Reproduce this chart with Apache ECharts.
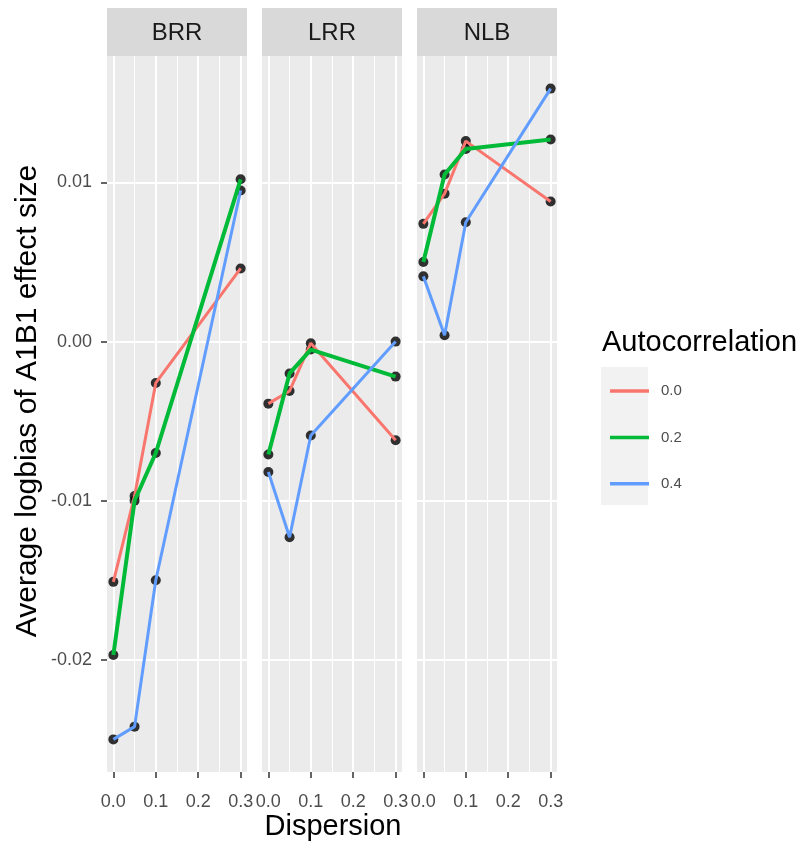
<!DOCTYPE html>
<html>
<head>
<meta charset="utf-8">
<script src="https://cdn.jsdelivr.net/npm/echarts@6/dist/echarts.min.js"></script>
<style>
  html, body { margin: 0; padding: 0; background: #ffffff; }
  #chart { width: 806px; height: 850px; }
</style>
</head>
<body>
<div id="chart"></div>
<script>
// ---- data ----
const panels = ['BRR', 'LRR', 'NLB'];
const autocorr = ['0.0', '0.2', '0.4'];
const dispersion = [0, 0.05, 0.1, 0.3];
const brr_00 = [-0.0151, -0.0097, -0.0026, 0.0046];
const brr_02 = [-0.0197, -0.0100, -0.0070, 0.0102];
const brr_04 = [-0.0250, -0.0242, -0.0150, 0.0095];
const lrr_00 = [-0.0039, -0.0031, -0.0001, -0.0062];
const lrr_02 = [-0.0071, -0.0020, -0.0005, -0.0022];
const lrr_04 = [-0.0082, -0.0123, -0.0059, 0.0000];
const nlb_00 = [0.0074, 0.0093, 0.0126, 0.0088];
const nlb_02 = [0.0050, 0.0105, 0.0121, 0.0127];
const nlb_04 = [0.0041, 0.0004, 0.0075, 0.0159];
const xTicks = [0, 0.1, 0.2, 0.3];
const xMinor = [0.05, 0.15, 0.25];
const yTicks = [-0.02, -0.01, 0, 0.01];
const yMinor = [-0.025, -0.015, -0.005, 0.005, 0.015];
const xRange = [-0.015, 0.315];
const yRange = [-0.02705, 0.01795];

const panelData = [
  [brr_00, brr_02, brr_04],
  [lrr_00, lrr_02, lrr_04],
  [nlb_00, nlb_02, nlb_04]
];

// ---- styles ----
const colors = ['#F8766D', '#00BA38', '#619CFF'];
const widths = [3, 4, 3];
const FONT = 'Liberation Sans, Arial, sans-serif';
const panelLeft = [107, 262, 417];
const panelW = 140, panelTop = 56, panelH = 716;

const chart = echarts.init(document.getElementById('chart'), null, { renderer: 'canvas' });

const grids = [], xAxes = [], yAxes = [], series = [], graphics = [];

panels.forEach((p, i) => {
  grids.push({
    left: panelLeft[i], top: panelTop, width: panelW, height: panelH,
    show: true, backgroundColor: '#EBEBEB', borderWidth: 0
  });
  xAxes.push({
    type: 'value', gridIndex: i, min: xRange[0], max: xRange[1],
    axisLine: { show: true, onZero: false, lineStyle: { color: 'rgba(0,0,0,0)', width: 0 } },
    axisTick: { show: true, customValues: xTicks, length: 6, lineStyle: { color: '#333333', width: 1.5 } },
    axisLabel: {
      show: true, customValues: xTicks, margin: 21,
      formatter: v => v.toFixed(1),
      fontSize: 18, color: '#4D4D4D', fontFamily: FONT
    },
    splitLine: { show: false }
  });
  yAxes.push({
    type: 'value', gridIndex: i, min: yRange[0], max: yRange[1],
    axisLine: { show: i === 0, onZero: false, lineStyle: { color: 'rgba(0,0,0,0)', width: 0 } },
    axisTick: { show: i === 0, customValues: yTicks, length: 6, lineStyle: { color: '#333333', width: 1.5 } },
    axisLabel: {
      show: i === 0, customValues: yTicks, margin: 15,
      formatter: v => (Math.abs(v) < 1e-12 ? 0 : v).toFixed(2),
      fontSize: 18, color: '#4D4D4D', fontFamily: FONT
    },
    splitLine: { show: false }
  });

  // gridlines drawn via the panel's own scales
  const ml = [];
  xTicks.forEach(v => ml.push({ xAxis: v, lineStyle: { width: 2 } }));
  xMinor.forEach(v => ml.push({ xAxis: v, lineStyle: { width: 1 } }));
  yTicks.forEach(v => ml.push({ yAxis: v, lineStyle: { width: 2 } }));
  yMinor.forEach(v => ml.push({ yAxis: v, lineStyle: { width: 1 } }));
  series.push({
    type: 'line', name: 'grid' + i, xAxisIndex: i, yAxisIndex: i, data: [],
    z: 1, silent: true, animation: false,
    markLine: {
      z: 1, silent: true, animation: false, symbol: 'none',
      label: { show: false },
      lineStyle: { color: '#FFFFFF', type: 'solid' },
      emphasis: { disabled: true },
      data: ml
    }
  });

  panelData[i].forEach((vals, k) => {
    const pts = dispersion.map((d, j) => [d, vals[j]]);
    series.push({
      type: 'scatter', name: 'pts', xAxisIndex: i, yAxisIndex: i,
      data: pts, symbol: 'circle', symbolSize: 10,
      itemStyle: { color: '#000000' }, z: 2, silent: true, animation: false
    });
    series.push({
      type: 'line', name: autocorr[k], xAxisIndex: i, yAxisIndex: i,
      data: pts, showSymbol: false, symbol: 'none',
      color: colors[k],
      lineStyle: { color: colors[k], width: widths[k] },
      z: 3, silent: true, animation: false
    });
  });

  // strip
  graphics.push({
    type: 'rect', left: panelLeft[i], top: 8, z: 0,
    shape: { width: panelW, height: 48 },
    style: { fill: '#D9D9D9' }
  });
  graphics.push({
    type: 'text', x: panelLeft[i] + panelW / 2, y: 33, z: 1,
    style: { text: p, fill: '#1A1A1A', font: '24px ' + FONT, align: 'center', verticalAlign: 'middle' }
  });
});

// axis titles
graphics.push({
  type: 'text', x: 333, y: 827, z: 1,
  style: { text: 'Dispersion', fill: '#000000', font: '29px ' + FONT, align: 'center', verticalAlign: 'middle' }
});
graphics.push({
  type: 'text', x: 28, y: 401, rotation: Math.PI / 2, z: 1,
  style: { text: 'Average logbias of A1B1 effect size', fill: '#000000', font: '30px ' + FONT, align: 'center', verticalAlign: 'middle' }
});
// legend title and key background
graphics.push({
  type: 'text', x: 602, y: 343, z: 1,
  style: { text: 'Autocorrelation', fill: '#000000', font: '29px ' + FONT, align: 'left', verticalAlign: 'middle' }
});
graphics.push({
  type: 'rect', left: 601, top: 367, z: 0,
  shape: { width: 47, height: 138 },
  style: { fill: '#F2F2F2' }
});

const option = {
  backgroundColor: '#FFFFFF',
  animation: false,
  grid: grids,
  xAxis: xAxes,
  yAxis: yAxes,
  legend: {
    data: autocorr,
    orient: 'vertical',
    left: 605, top: 378,
    icon: 'rect',
    itemWidth: 39, itemHeight: 3.5,
    itemGap: 30.4,
    selectedMode: false,
    textStyle: { fontSize: 15, lineHeight: 16, color: '#4D4D4D', fontFamily: FONT, padding: [0, 0, 0, 7] }
  },
  graphic: graphics,
  series: series
};
chart.setOption(option);
</script>
</body>
</html>
